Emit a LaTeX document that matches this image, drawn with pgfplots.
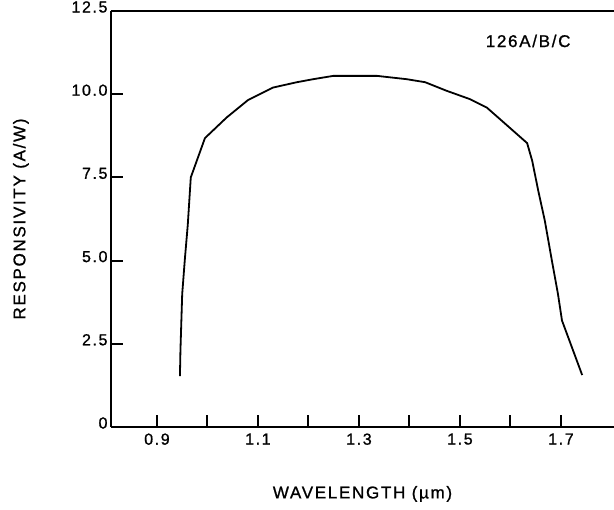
\documentclass[border=0pt]{standalone}
\usepackage{fontspec}
\setmainfont{Liberation Sans}[LetterSpace=10, FakeBold=1]
\usepackage{pgfplots}
\pgfplotsset{compat=1.18}
\begin{document}
\begin{tikzpicture}
\begin{axis}[
    scale only axis,
    width=503bp,
    height=416bp,
    xmin=0.809, xmax=1.805,
    ymin=0, ymax=12.5,
    axis x line*=box,
    axis y line*=left,
    axis line style={line width=2bp, black},
    xtick={0.9,1.0,1.1,1.2,1.3,1.4,1.5,1.6,1.7},
    xticklabels={0.9,,1.1,,1.3,,1.5,,1.7},
    ytick={0,2.5,5,7.5,10,12.5},
    yticklabels={0,2.5,5.0,7.5,10.0,12.5},
    xtick pos=lower,
    ytick pos=left,
    tick align=inside,
    major tick length=12bp,
    tick style={line width=2bp, black},
    tick label style={font=\fontsize{16bp}{19bp}\selectfont},
    yticklabel style={yshift=4bp},
    xticklabel style={yshift=-3bp},
    /pgf/number format/assume math mode=true,
    xlabel={WAVELENGTH (µm)},
    ylabel={RESPONSIVITY (A/W)},
    label style={font=\fontsize{17bp}{20bp}\selectfont},
    xlabel style={at={(axis description cs:0.5,-0.161)}, anchor=center},
    ylabel style={at={(axis description cs:-0.179,0.5)}, anchor=center},
    clip=false,
]
\addplot[black, line width=1.8bp, mark=none] coordinates {
    (0.9455,1.53)
    (0.9465,2.3)
    (0.950,4.0)
    (0.9554,5.07)
    (0.961,6.07)
    (0.967,7.5)
    (0.995,8.68)
    (1.038,9.3)
    (1.080,9.82)
    (1.130,10.2)
    (1.177,10.36)
    (1.209,10.45)
    (1.249,10.55)
    (1.336,10.55)
    (1.395,10.45)
    (1.431,10.36)
    (1.474,10.1)
    (1.520,9.85)
    (1.553,9.6)
    (1.583,9.2)
    (1.633,8.53)
    (1.643,8.0)
    (1.655,7.1)
    (1.668,6.2)
    (1.682,5.0)
    (1.694,4.0)
    (1.702,3.2)
    (1.742,1.56)
};
\node[font=\fontsize{17bp}{20bp}\selectfont] at (axis cs:1.635,11.6) {126A/B/C};
\end{axis}
\pgfresetboundingbox
\path[use as bounding box] ([xshift=-111bp,yshift=-83bp]current axis.south west) rectangle ([yshift=11bp]current axis.north east);
\end{tikzpicture}
\end{document}
